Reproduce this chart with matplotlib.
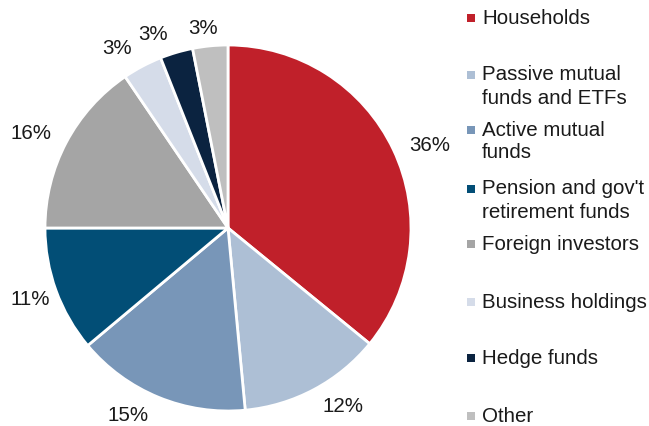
import matplotlib
matplotlib.use("Agg")
import matplotlib.pyplot as plt
import numpy as np

plt.rcParams['font.family'] = ['Liberation Sans', 'DejaVu Sans']

# Data (shares, %)
categories = ["Households", "Passive mutual\nfunds and ETFs", "Active mutual\nfunds",
              "Pension and gov't\nretirement funds", "Foreign investors",
              "Business holdings", "Hedge funds", "Other"]
shares = [35.9, 12.6, 15.4, 11.1, 15.5, 3.5, 2.9, 3.1]
pct_labels = ["36%", "12%", "15%", "11%", "16%", "3%", "3%", "3%"]
colors = ["#C0202A", "#ADBFD5", "#7896B8", "#024E76", "#A5A5A5",
          "#D5DCE9", "#0B2340", "#BFBFBF"]

W, H = 649, 426
fig = plt.figure(figsize=(W / 100, H / 100), dpi=100)

# pie axes: centre ~ (228, 228) px, radius ~183 px
cx, cy, r = 228, 228, 183
ax = fig.add_axes([(cx - r) / W, (H - cy - r) / H, 2 * r / W, 2 * r / H])
wedges, _ = ax.pie(shares, colors=colors, startangle=90, counterclock=False,
                   radius=1, wedgeprops=dict(edgecolor="white", linewidth=2))
ax.set_xlim(-1, 1)
ax.set_ylim(-1, 1)
ax.set_aspect("equal")
ax.axis("off")

# percentage labels outside the wedges (distance, angle nudge in degrees)
label_dist = [1.19, 1.16, 1.16, 1.15, 1.195, 1.156, 1.132, 1.10]
label_shift = [-3.1, 4.6, -5.8, 0, 2.2, 3.8, 4.8, 1.5]
for w, lab, d, s in zip(wedges, pct_labels, label_dist, label_shift):
    ang = np.deg2rad((w.theta1 + w.theta2) / 2 + s)
    ax.text(d * np.cos(ang), d * np.sin(ang), lab, ha="center", va="center",
            fontsize=14.8, color="#1a1a1a")

# legend drawn by hand in pixel coordinates
lax = fig.add_axes([0, 0, 1, 1])
lax.set_xlim(0, W)
lax.set_ylim(H, 0)
lax.axis("off")
legend_y = [18, 75, 130, 189, 244, 302, 358, 416]
lax.scatter([471] * len(categories), legend_y, s=26, marker="s", c=colors, linewidths=0)
for y, name in zip(legend_y, categories):
    for i, line in enumerate(name.split("\n")):
        lax.text(482, y + i * 23, line, ha="left", va="center", fontsize=14.8,
                 color="#1a1a1a")

fig.savefig("out.png", dpi=100)
